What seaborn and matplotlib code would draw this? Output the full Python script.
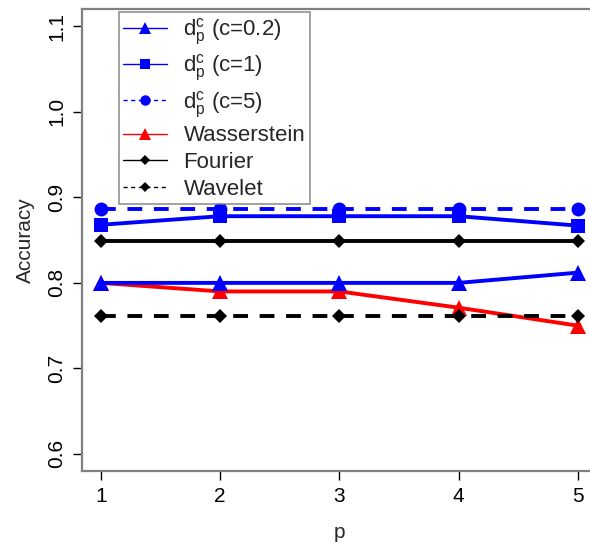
import matplotlib
matplotlib.use("Agg")
import matplotlib.pyplot as plt
from matplotlib.lines import Line2D
import seaborn as sns
import pandas as pd

# Classification accuracy against the order p
p = [1, 2, 3, 4, 5]
acc_c02 = [0.800, 0.800, 0.800, 0.800, 0.812]
acc_c1 = [0.868, 0.878, 0.878, 0.878, 0.867]
acc_c5 = [0.887, 0.887, 0.887, 0.887, 0.887]
acc_wasserstein = [0.800, 0.790, 0.790, 0.771, 0.750]
acc_fourier = [0.849, 0.849, 0.849, 0.849, 0.849]
acc_wavelet = [0.761, 0.761, 0.761, 0.761, 0.761]

labels = [r"$\mathregular{d_p^c}$ (c=0.2)", r"$\mathregular{d_p^c}$ (c=1)",
          r"$\mathregular{d_p^c}$ (c=5)", "Wasserstein", "Fourier", "Wavelet"]
yticks = [0.6, 0.7, 0.8, 0.9, 1.0, 1.1]

sns.set_style("white")
plt.rcParams["font.family"] = ["Liberation Sans", "DejaVu Sans"]
plt.rcParams["mathtext.fontset"] = "custom"
plt.rcParams["mathtext.rm"] = "Liberation Sans"
plt.rcParams["mathtext.it"] = "Liberation Sans"

BLUE = "#0000ff"
RED = "#ff0000"
BLACK = "#000000"
DASH = (0, (3.8, 3.0))

fig = plt.figure(figsize=(5.90, 5.43), dpi=100)
ax = fig.add_axes([0.139, 0.1326, 1.0115 - 0.139, 0.9829 - 0.1326])

series = [
    (acc_wasserstein, RED, "^", "-", 11),
    (acc_c5, BLUE, "o", DASH, 10),
    (acc_c1, BLUE, "s", "-", 9.5),
    (acc_c02, BLUE, "^", "-", 11),
    (acc_fourier, BLACK, "D", "-", 7.5),
    (acc_wavelet, BLACK, "D", DASH, 7.5),
]
for vals, col, mk, ls, ms in series:
    df = pd.DataFrame({"p": p, "acc": vals})
    sns.lineplot(data=df, x="p", y="acc", ax=ax, color=col, marker=mk,
                 markersize=ms, markeredgewidth=0, linewidth=2.8,
                 linestyle=ls, errorbar=None)

ax.set_xlim(0.84, 5.16)
ax.set_ylim(0.58, 1.12)
ax.set_xticks(p)
ax.set_yticks(yticks)
ax.set_yticklabels([f"{v:.1f}" for v in yticks], rotation=90, va="center")
ax.tick_params(axis="both", direction="out", length=6.5, width=1.0,
               colors=BLACK, labelsize=15, pad=5, bottom=True, left=True)
ax.tick_params(axis="y", pad=5)
for s in ax.spines.values():
    s.set_color("#808080")
    s.set_linewidth(1.6)
ax.set_xlabel("p", fontsize=15, labelpad=12)
ax.set_ylabel("Accuracy", fontsize=15, labelpad=9)

handles = [
    Line2D([], [], color=BLUE, marker="^", markersize=8, lw=1, markeredgewidth=0),
    Line2D([], [], color=BLUE, marker="s", markersize=7, lw=1, markeredgewidth=0),
    Line2D([], [], color=BLUE, marker="o", markersize=7.5, lw=1, ls=(0, (3, 2.5)), markeredgewidth=0),
    Line2D([], [], color=RED, marker="^", markersize=8, lw=1, markeredgewidth=0),
    Line2D([], [], color=BLACK, marker="D", markersize=5.5, lw=1, markeredgewidth=0),
    Line2D([], [], color=BLACK, marker="D", markersize=5.5, lw=1, ls=(0, (3, 2.5)), markeredgewidth=0),
]
leg = ax.legend(handles, labels, loc="upper left",
                bbox_to_anchor=(0.0719, 0.994), frameon=True, fancybox=False,
                fontsize=16, handlelength=1.95, handletextpad=0.75,
                borderpad=0.2, labelspacing=0.26, borderaxespad=0)
leg.get_frame().set_edgecolor("#808080")
leg.get_frame().set_linewidth(1.3)

fig.savefig("out.png", dpi=100)
